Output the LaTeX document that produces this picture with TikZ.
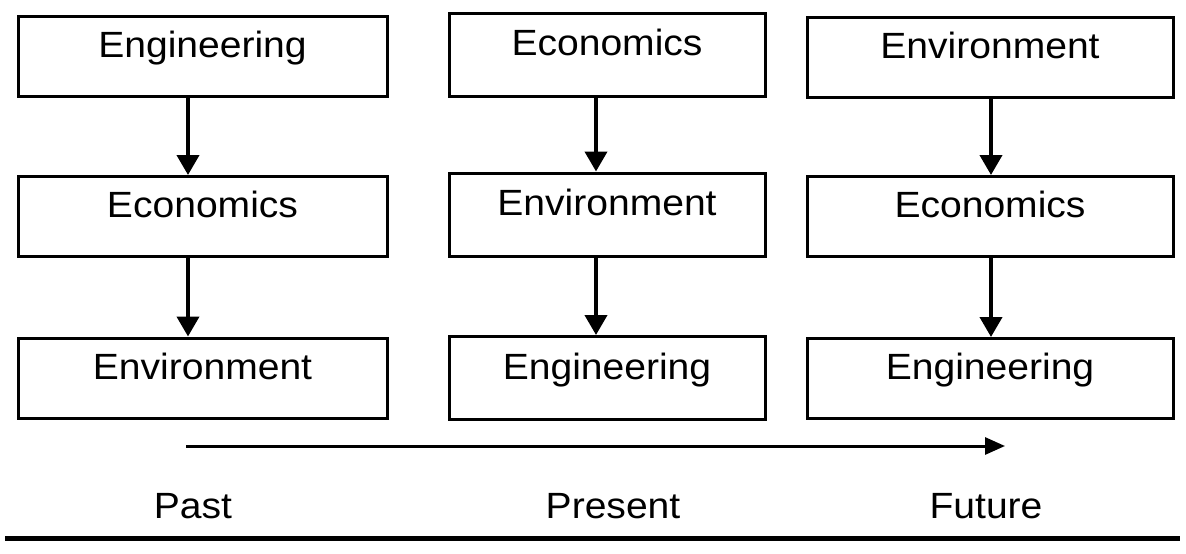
\documentclass[tikz,border=0pt]{standalone}
\usepackage{fontspec}
\setmainfont{Liberation Sans}[FakeStretch=1.07]
\usepackage{tikz}
\usetikzlibrary{positioning,arrows.meta}

\begin{document}
\begin{tikzpicture}[x=1pt, y=-1pt, >={Triangle[length=20pt,width=22pt]},
  every box/.style={draw, line width=3pt, inner sep=0pt,
    minimum height=80pt, text height=0.72em, text depth=0.52em,
    font=\fontsize{36.5}{43}\selectfont},
  box past/.style={minimum width=369pt},
  box present/.style={minimum width=316pt, minimum height=83pt},
  box future/.style={minimum width=366pt},
  flow/.style={->, line width=4pt},
  era/.style={anchor=base, font=\fontsize{36.5}{43}\selectfont}]

\useasboundingbox (0,0) rectangle (1186,554);

\foreach \m/\yy [count=\i] in {Engineering/56, Economics/216.5, Environment/378}
  \node [every box, box past] (past-\i) at (202.5,\yy) {\m};

\foreach \m/\yy [count=\i] in {Economics/54.5, Environment/214.5, Engineering/378}
  \node [every box, box present] (present-\i) at (607,\yy) {\m};

\foreach \m/\yy [count=\i] in {Environment/57, Economics/216.5, Engineering/378.5}
  \node [every box, box future] (future-\i) at (990,\yy) {\m};

\foreach \i [evaluate=\i as \j using int(\i+1)] in {1,2} {
  \draw [flow] ([xshift=-14.5pt]past-\i.south) -- ([xshift=-14.5pt]past-\j.north);
  \draw [flow] ([xshift=-11pt]present-\i.south) -- ([xshift=-11pt]present-\j.north);
  \draw [flow] ([xshift=1pt]future-\i.south) -- ([xshift=1pt]future-\j.north);
}

% time line
\coordinate (time-start) at (186,446);
\coordinate (time-end) at (1005,446);
\draw [->, >={Triangle[length=20pt,width=17pt]}, line width=3pt]
  (time-start) -- (time-end);

\foreach \l/\x [count=\i] in {Past/193, Present/613, Future/986}
  \node [era] (era-\i) at (\x,518) {\l};

\coordinate (rule-left) at (5,538);
\coordinate (rule-right) at (1180,538);
\draw [line width=5pt] (rule-left) -- (rule-right);

\end{tikzpicture}
\end{document}
